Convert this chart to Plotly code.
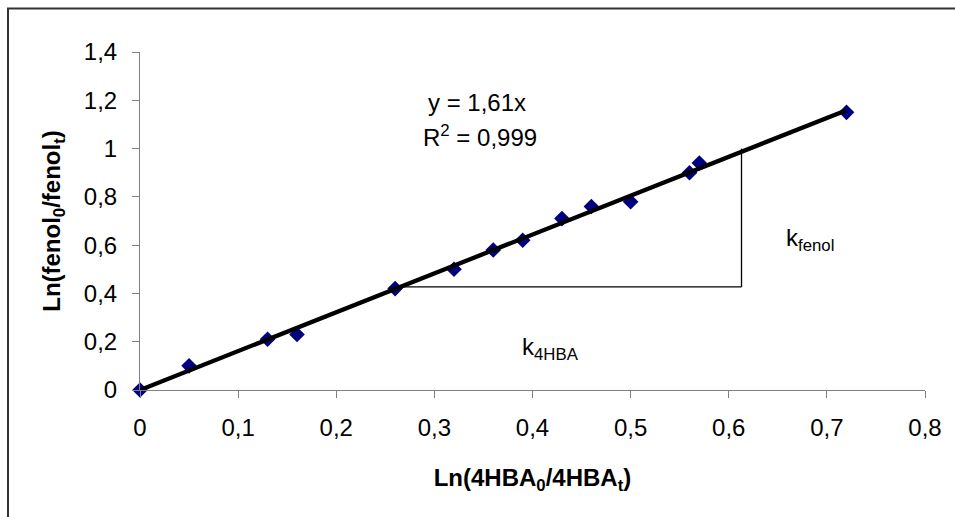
import plotly.graph_objects as go

x_vals = [0, 0.05, 0.13, 0.16, 0.26, 0.32, 0.36, 0.39, 0.43, 0.46, 0.50, 0.56, 0.57, 0.72]
y_vals = [0, 0.10, 0.21, 0.23, 0.42, 0.50, 0.58, 0.62, 0.71, 0.76, 0.78, 0.90, 0.94, 1.15]
slope = 1.61
fit_x = [0, 0.72]
fit_y = [slope * v for v in fit_x]

# triangle lines illustrating slope
tri_h_x = [0.268, 0.613]
tri_h_y = [0.427, 0.427]
tri_v_x = [0.613, 0.613]
tri_v_y = [0.427, 1.0]

x_ticks = [0, 0.1, 0.2, 0.3, 0.4, 0.5, 0.6, 0.7, 0.8]
x_tick_text = ["0", "0,1", "0,2", "0,3", "0,4", "0,5", "0,6", "0,7", "0,8"]
y_ticks = [0, 0.2, 0.4, 0.6, 0.8, 1.0, 1.2, 1.4]
y_tick_text = ["0", "0,2", "0,4", "0,6", "0,8", "1", "1,2", "1,4"]

FONT = "Liberation Sans, Arial, sans-serif"
FS = 24

fig = go.Figure()
fig.add_trace(go.Scatter(x=tri_h_x, y=tri_h_y, mode="lines",
                         line=dict(color="black", width=1.3), showlegend=False, hoverinfo="skip"))
fig.add_trace(go.Scatter(x=tri_v_x, y=tri_v_y, mode="lines",
                         line=dict(color="black", width=1.3), showlegend=False, hoverinfo="skip"))
fig.add_trace(go.Scatter(x=x_vals, y=y_vals, mode="markers",
                         marker=dict(symbol="diamond", size=12, color="#000080"),
                         showlegend=False, cliponaxis=False))
fig.add_trace(go.Scatter(x=fit_x, y=fit_y, mode="lines",
                         line=dict(color="black", width=4.3), showlegend=False))

L, R, T, B = 140, 30, 52, 127
W, H = 955, 517
pw, ph = W - L - R, H - T - B

def px(xp):
    return (xp - L) / pw

def py(yp):
    return (H - B - yp) / ph

fig.add_shape(type="rect", xref="paper", yref="paper",
              x0=px(8), x1=px(1000), y0=py(8.5), y1=py(560),
              line=dict(color="#333333", width=2), fillcolor="rgba(0,0,0,0)", layer="below")

fig.add_annotation(x=0.3435, y=1.19, xref="x", yref="y", text="y = 1,61x", showarrow=False,
                   font=dict(family=FONT, size=FS, color="black"))
fig.add_annotation(x=0.347, y=1.054, xref="x", yref="y", text="R<sup>2</sup> = 0,999", showarrow=False,
                   font=dict(family=FONT, size=FS, color="black"))
fig.add_annotation(x=0.683, y=0.625, xref="x", yref="y", text="k<sub>fenol</sub>", showarrow=False,
                   font=dict(family=FONT, size=FS, color="black"))
fig.add_annotation(x=0.418, y=0.17, xref="x", yref="y", text="k<sub>4HBA</sub>", showarrow=False,
                   font=dict(family=FONT, size=FS, color="black"))

fig.update_layout(
    width=W, height=H,
    margin=dict(l=L, r=R, t=T, b=B, pad=0),
    paper_bgcolor="white", plot_bgcolor="white",
    font=dict(family=FONT, size=FS, color="black"),
    xaxis=dict(range=[0, 0.8], tickvals=x_ticks, ticktext=x_tick_text,
               showgrid=False, zeroline=False, showline=True, linecolor="#808080", linewidth=1,
               ticks="outside", ticklen=7, tickcolor="#808080", ticklabelstandoff=9,
               tickfont=dict(family=FONT, size=FS),
               title=dict(text="<b>Ln(4HBA<sub>0</sub>/4HBA<sub>t</sub>)</b>", standoff=29,
                          font=dict(family=FONT, size=FS))),
    yaxis=dict(range=[0, 1.4], tickvals=y_ticks, ticktext=y_tick_text,
               showgrid=False, zeroline=False, showline=True, linecolor="#808080", linewidth=1,
               ticks="outside", ticklen=7, tickcolor="#808080", ticklabelstandoff=10,
               tickfont=dict(family=FONT, size=FS),
               title=dict(text="<b>Ln(fenol<sub>0</sub>/fenol<sub>t</sub>)</b>", standoff=16,
                          font=dict(family=FONT, size=FS))),
)

fig.write_html("out.html")
